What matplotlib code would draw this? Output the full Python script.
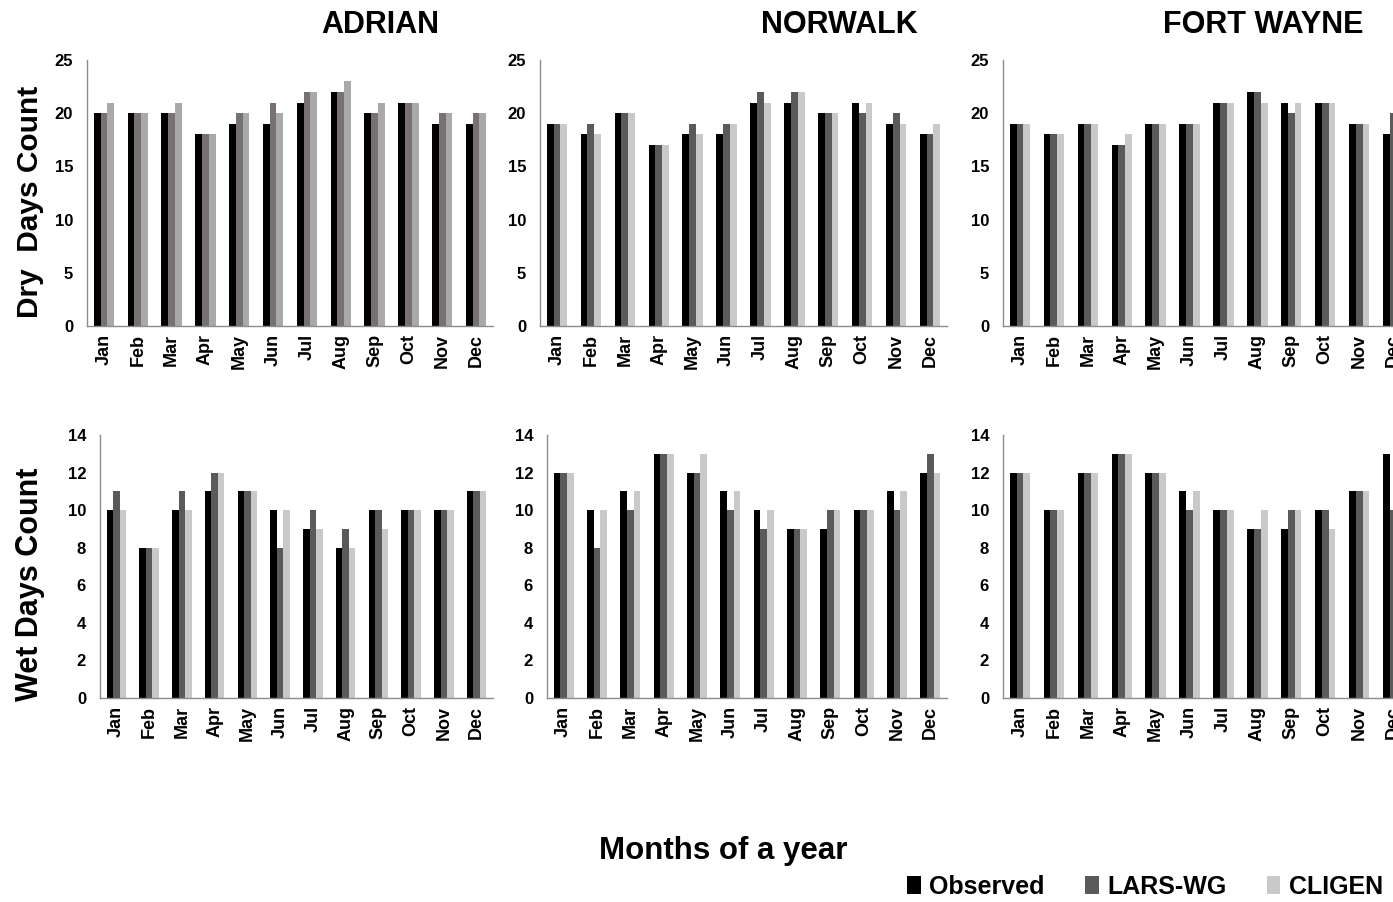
import numpy as np
import matplotlib
matplotlib.use("Agg")
import matplotlib.pyplot as plt
from matplotlib.patches import Patch

plt.rcParams['font.family'] = ['Liberation Sans', 'DejaVu Sans']
plt.rcParams['font.weight'] = 'bold'

months = ["Jan", "Feb", "Mar", "Apr", "May", "Jun",
          "Jul", "Aug", "Sep", "Oct", "Nov", "Dec"]
stations = ["ADRIAN", "NORWALK", "FORT WAYNE"]
series_names = ["Observed", "LARS-WG", "CLIGEN"]

# dry days count per month
adrian_dry_obs = [20, 20, 20, 18, 19, 19, 21, 22, 20, 21, 19, 19]
adrian_dry_lars = [20, 20, 20, 18, 20, 21, 22, 22, 20, 21, 20, 20]
adrian_dry_cligen = [21, 20, 21, 18, 20, 20, 22, 23, 21, 21, 20, 20]

norwalk_dry_obs = [19, 18, 20, 17, 18, 18, 21, 21, 20, 21, 19, 18]
norwalk_dry_lars = [19, 19, 20, 17, 19, 19, 22, 22, 20, 20, 20, 18]
norwalk_dry_cligen = [19, 18, 20, 17, 18, 19, 21, 22, 20, 21, 19, 19]

fortwayne_dry_obs = [19, 18, 19, 17, 19, 19, 21, 22, 21, 21, 19, 18]
fortwayne_dry_lars = [19, 18, 19, 17, 19, 19, 21, 22, 20, 21, 19, 20]
fortwayne_dry_cligen = [19, 18, 19, 18, 19, 19, 21, 21, 21, 21, 19, 19]

# wet days count per month
adrian_wet_obs = [10, 8, 10, 11, 11, 10, 9, 8, 10, 10, 10, 11]
adrian_wet_lars = [11, 8, 11, 12, 11, 8, 10, 9, 10, 10, 10, 11]
adrian_wet_cligen = [10, 8, 10, 12, 11, 10, 9, 8, 9, 10, 10, 11]

norwalk_wet_obs = [12, 10, 11, 13, 12, 11, 10, 9, 9, 10, 11, 12]
norwalk_wet_lars = [12, 8, 10, 13, 12, 10, 9, 9, 10, 10, 10, 13]
norwalk_wet_cligen = [12, 10, 11, 13, 13, 11, 10, 9, 10, 10, 11, 12]

fortwayne_wet_obs = [12, 10, 12, 13, 12, 11, 10, 9, 9, 10, 11, 13]
fortwayne_wet_lars = [12, 10, 12, 13, 12, 10, 10, 9, 10, 10, 11, 10]
fortwayne_wet_cligen = [12, 10, 12, 13, 12, 11, 10, 10, 10, 9, 11, 11]

dry = [
    [adrian_dry_obs, adrian_dry_lars, adrian_dry_cligen],
    [norwalk_dry_obs, norwalk_dry_lars, norwalk_dry_cligen],
    [fortwayne_dry_obs, fortwayne_dry_lars, fortwayne_dry_cligen],
]
wet = [
    [adrian_wet_obs, adrian_wet_lars, adrian_wet_cligen],
    [norwalk_wet_obs, norwalk_wet_lars, norwalk_wet_cligen],
    [fortwayne_wet_obs, fortwayne_wet_lars, fortwayne_wet_cligen],
]

# Adrian's top panel was drawn in slightly different greys
colors_top = [
    ["#000000", "#777171", "#a9a9a9"],
    ["#000000", "#5a5a5a", "#c9c9c9"],
    ["#000000", "#5a5a5a", "#c9c9c9"],
]
colors_bottom = [["#000000", "#5a5a5a", "#c9c9c9"]] * 3

W, H = 1393, 902
fig = plt.figure(figsize=(W / 100, H / 100), dpi=100)

# axes boxes in pixels: (left, top, right, bottom)
# the Fort Wayne panels run past the right edge, as in the original
top_boxes = [(87, 60, 493, 326), (540, 60, 947, 326), (1003, 60, 1410, 326)]
bot_boxes = [(100, 435, 493, 698), (547, 435, 947, 698), (1003, 435, 1410, 698)]


def px_axes(box):
    l, t, r, b = box
    return fig.add_axes([l / W, 1 - b / H, (r - l) / W, (b - t) / H])


def draw_panel(ax, data, colors, ymax, step):
    x = np.arange(len(months))
    w = 0.2
    for i, vals in enumerate(data):
        ax.bar(x + (i - 1) * w, vals, width=w, color=colors[i], linewidth=0)
    ax.set_xlim(-0.5, 11.5)
    ax.set_ylim(0, ymax)
    ax.set_yticks(np.arange(0, ymax + 1, step))
    ax.set_xticks(x)
    ax.set_xticklabels(months, rotation=90, fontsize=13, fontweight='bold')
    for lab in ax.get_yticklabels():
        lab.set_fontsize(12)
        lab.set_fontweight('bold')
    ax.tick_params(axis='y', length=0, pad=10)
    ax.tick_params(axis='x', length=0, pad=6)
    for s in ["top", "right"]:
        ax.spines[s].set_visible(False)
    for s in ["left", "bottom"]:
        ax.spines[s].set_color("#8c8c8c")
        ax.spines[s].set_linewidth(1.0)


for k in range(3):
    ax = px_axes(top_boxes[k])
    draw_panel(ax, dry[k], colors_top[k], 25, 5)
    ax = px_axes(bot_boxes[k])
    draw_panel(ax, wet[k], colors_bottom[k], 14, 2)

title_x = [380, 839, 1263]
for k, name in enumerate(stations):
    fig.text(title_x[k] / W, 1 - 25 / H, name, ha='center', va='center',
             fontsize=22, fontweight='bold')

fig.text(30 / W, 1 - 202 / H, "Dry  Days Count", rotation=90, ha='center',
         va='center', fontsize=21.5, fontweight='bold')
fig.text(30 / W, 1 - 584 / H, "Wet Days Count", rotation=90, ha='center',
         va='center', fontsize=22, fontweight='bold')
fig.text(723 / W, 1 - 851 / H, "Months of a year", ha='center', va='center',
         fontsize=22.5, fontweight='bold')

handles = [Patch(facecolor=c, edgecolor='none') for c in colors_bottom[0]]
fig.legend(handles, series_names, loc='center',
           bbox_to_anchor=(1145 / W, 1 - 887 / H), ncol=3, frameon=False,
           prop={'size': 18, 'weight': 'bold'}, handlelength=0.55,
           handleheight=0.75, handletextpad=0.35, columnspacing=1.6)

fig.savefig("out.png", dpi=100)
